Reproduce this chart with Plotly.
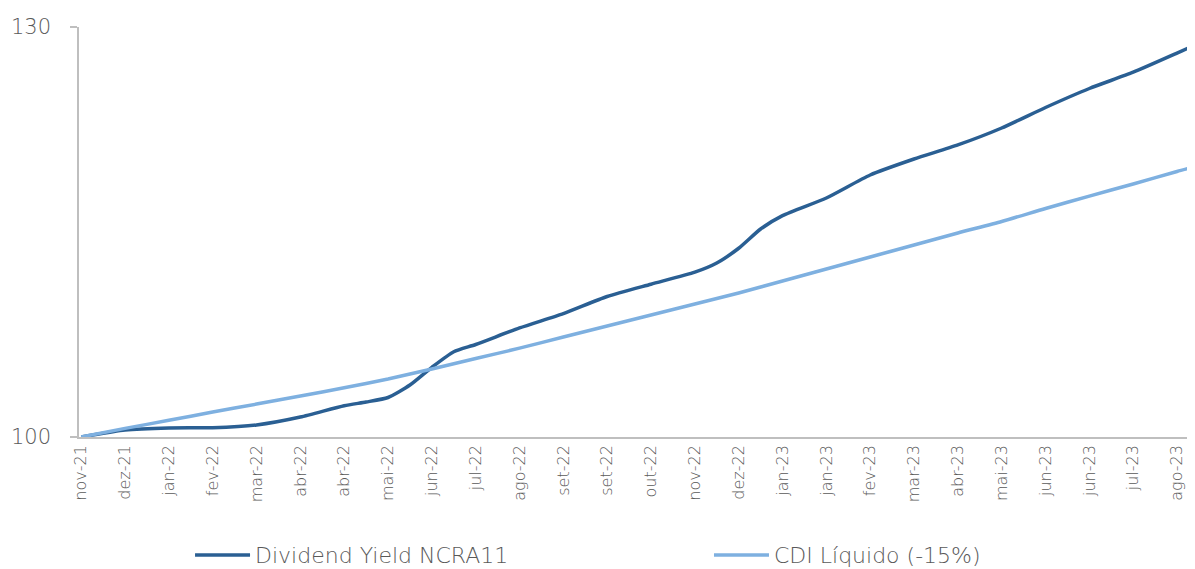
import plotly.graph_objects as go

tick_labels = ["nov-21", "dez-21", "jan-22", "fev-22", "mar-22", "abr-22", "abr-22", "mai-22",
               "jun-22", "jul-22", "ago-22", "set-22", "set-22", "out-22", "nov-22", "dez-22",
               "jan-23", "jan-23", "fev-23", "mar-23", "abr-23", "mai-23", "jun-23", "jun-23",
               "jul-23", "ago-23"]

# positions along the time axis (one unit per labelled period)
x_dy = [0, 1, 2, 3, 4, 5, 6, 6.5, 7, 7.5, 8, 8.5, 9, 10, 11, 12, 13, 14, 14.5, 15, 15.5,
        16, 17, 18, 19, 20, 21, 22, 23, 24, 25, 25.41]
dividend_yield = [100.0, 100.51, 100.66, 100.68, 100.88, 101.46, 102.29, 102.56, 102.89, 103.8,
                  105.1, 106.24, 106.77, 107.98, 109.03, 110.28, 111.18, 112.06, 112.73, 113.81,
                  115.22, 116.2, 117.49, 119.17, 120.34, 121.37, 122.61, 124.11, 125.5, 126.69,
                  128.09, 128.68]

x_cdi = list(range(26)) + [25.41]
cdi_liquido = [100.0, 100.63, 101.22, 101.83, 102.41, 103.0, 103.6, 104.24, 104.98, 105.74,
               106.5, 107.32, 108.12, 108.93, 109.73, 110.54, 111.41, 112.29, 113.17, 114.05,
               114.93, 115.77, 116.72, 117.63, 118.51, 119.43, 119.78]

FONT = "DejaVu Sans"
GREY = "#595959"

fig = go.Figure()
fig.add_trace(go.Scatter(x=x_dy, y=dividend_yield, mode="lines", name="Dividend Yield NCRA11",
                         line=dict(color="#2A5F93", width=3.5, shape="spline", smoothing=0.6),
                         legend="legend"))
fig.add_trace(go.Scatter(x=x_cdi, y=cdi_liquido, mode="lines", name="CDI Líquido (-15%)",
                         line=dict(color="#7EB0E0", width=3.5, shape="spline", smoothing=0.6),
                         legend="legend2"))

leg_common = dict(orientation="h", y=-0.288, yanchor="middle", xanchor="left",
                  font=dict(size=22, color=GREY, family=FONT, weight=300),
                  itemwidth=55, bgcolor="rgba(0,0,0,0)")

# the page adds an 8px body margin, so the figure is 8px smaller and margins shifted
fig.update_layout(
    width=1187, height=561,
    margin=dict(l=71, r=0, t=19, b=132, autoexpand=False),
    plot_bgcolor="white", paper_bgcolor="white",
    font=dict(family=FONT, color=GREY),
    showlegend=True,
    legend=dict(x=0.0995, **leg_common),
    legend2=dict(x=0.5645, **leg_common),
    xaxis=dict(range=[-0.05, 25.41], tickmode="array", tickvals=list(range(26)),
               ticktext=tick_labels, tickangle=-90,
               tickfont=dict(size=16, color=GREY, weight=300),
               showgrid=False, zeroline=False, showline=True, linecolor="#BFBFBF",
               linewidth=1.5, ticks="", automargin=False),
    yaxis=dict(range=[100, 130], tickmode="array", tickvals=[100, 130],
               ticktext=["100", "130"], tickfont=dict(size=21, color=GREY, weight=300),
               showgrid=False, zeroline=False, showline=True, linecolor="#BFBFBF",
               linewidth=1.5, ticks="outside", ticklen=7, tickcolor="#BFBFBF",
               tickwidth=1.5, ticklabelstandoff=15, automargin=False),
)

fig.write_html("out.html")
